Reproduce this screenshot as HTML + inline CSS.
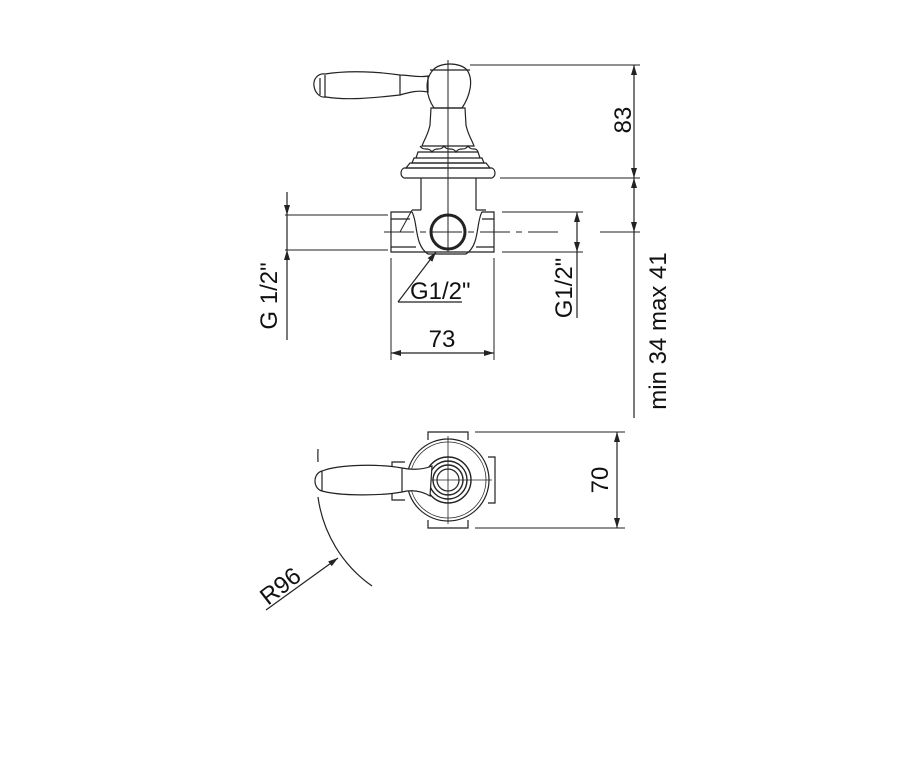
<!DOCTYPE html>
<html><head><style>html,body{margin:0;padding:0;background:#fff}svg{display:block}</style></head>
<body>
<svg width="900" height="762" viewBox="0 0 900 762" xmlns="http://www.w3.org/2000/svg" font-family="Liberation Sans, sans-serif" fill="none" stroke="#222" stroke-width="1.2">
<defs>
<marker id="a" markerWidth="10" markerHeight="8" refX="10" refY="4" orient="auto-start-reverse" markerUnits="userSpaceOnUse"><path d="M0,1 L10,4 L0,7 Z" fill="#222" stroke="none"/></marker>
</defs>
<!-- lever -->
<path d="M325,74 C318,73 313,79 314,86 C315,93 320,98 326,97 C350,101 380,97 400,95 C410,92 418,90 428,92 L428,76 C418,78 410,75 400,75 C380,72 350,70 325,74 Z"/>
<path d="M325,75 L325,97 M400,75 L400,95 M320,78 L320,95"/>
<!-- knob -->
<path d="M433,70 C440,62 460,62 467,70 C474,80 470,96 462,108 L434,108 C426,96 424,80 433,70 Z"/>
<path d="M430,70 L470,70"/>
<!-- stem -->
<path d="M431,108 L465,108 L466,125 C468,135 472,140 474,146 L422,146 C424,140 428,135 430,125 Z"/>
<path d="M420,146 C424,152 428,146 432,152 C436,146 440,152 444,146 C448,152 452,146 456,152 C460,146 464,152 468,146 C472,152 476,146 478,152"/>
<path d="M418,152 L478,152 L480,158 L416,158 Z M414,158 L482,158 L484,163 L412,163 Z"/>
<path d="M410,163 L486,163 L490,168 L406,168 Z"/>
<path d="M404,168 L492,168 C496,170 496,176 492,178 L404,178 C400,176 400,170 404,168 Z"/>
<path d="M421,178 L421,210 M476,178 L476,210"/>
<path d="M412,210 L421,210 M476,210 L486,210"/>
<path d="M391,212 L412,212 C418,222 414,245 428,254 L466,254 C480,245 476,222 482,212 L494,212 L494,252 L391,252 Z"/>
<path d="M391,219 L410,219 M391,247 L416,247 M482,219 L494,219 M476,247 L494,247"/>
<path d="M412,210 L400,232" stroke-width="1"/>
<circle cx="448" cy="232" r="17" stroke-width="3"/>
<line x1="448" y1="60" x2="448" y2="252" stroke-width="1"/>
<path d="M384,232 L560,232 M600,232 L640,232" stroke-width="1" stroke-dasharray="30,6,6,6"/>
<path d="M285,215 L388,215 M285,250 L388,250 M502,212 L583,212 M502,252 L583,252" stroke-width="1"/>
<line x1="287" y1="192" x2="287" y2="215" marker-end="url(#a)"/>
<line x1="287" y1="215" x2="287" y2="250"/>
<line x1="287" y1="340" x2="287" y2="250" marker-end="url(#a)"/>
<line x1="577" y1="232" x2="577" y2="212" marker-end="url(#a)"/>
<line x1="577" y1="232" x2="577" y2="252" marker-end="url(#a)"/>
<line x1="577" y1="252" x2="577" y2="318"/>
<line x1="398" y1="302" x2="436" y2="252" marker-end="url(#a)"/>
<line x1="398" y1="302" x2="462" y2="302"/>
<path d="M391,258 L391,360 M494,258 L494,360" stroke-width="1"/>
<line x1="442" y1="353" x2="391" y2="353" marker-end="url(#a)"/>
<line x1="442" y1="353" x2="494" y2="353" marker-end="url(#a)"/>
<path d="M470,65 L640,65 M500,178 L640,178 M600,232 L640,232" stroke-width="1"/>
<line x1="634" y1="120" x2="634" y2="65" marker-end="url(#a)"/>
<line x1="634" y1="120" x2="634" y2="178" marker-end="url(#a)"/>
<line x1="634" y1="195" x2="634" y2="178" marker-end="url(#a)"/>
<line x1="634" y1="195" x2="634" y2="232" marker-end="url(#a)"/>
<line x1="634" y1="232" x2="634" y2="418"/>
<g fill="#111" stroke="none" font-size="24">
<text x="410" y="299">G1/2"</text>
<text x="442" y="347" text-anchor="middle">73</text>
<text transform="translate(277,296) rotate(-90)" text-anchor="middle">G 1/2"</text>
<text transform="translate(572,288) rotate(-90)" text-anchor="middle">G1/2"</text>
<text transform="translate(631,120) rotate(-90)" text-anchor="middle">83</text>
<text transform="translate(666,331) rotate(-90)" text-anchor="middle">min 34 max 41</text>
<text transform="translate(608,480) rotate(-90)" text-anchor="middle">70</text>
<text transform="translate(268,606) rotate(-38)">R96</text>
</g>
<!-- BOTTOM VIEW -->
<path d="M428,440 L428,432 L468,432 L468,440 M428,520 L428,528 L468,528 L468,520"/>
<path d="M488,457 L495,457 L495,503 L488,503"/>
<path d="M405,462 L392,462 L392,500 L405,500"/>
<circle cx="448" cy="480" r="41"/>
<circle cx="448" cy="480" r="38" stroke-width="0.8"/>
<circle cx="448" cy="480" r="23" stroke-width="1.4"/>
<circle cx="448" cy="480" r="19" stroke-width="1.4"/>
<circle cx="448" cy="480" r="15" stroke-width="1.4"/>
<circle cx="448" cy="480" r="11"/>
<path d="M448,436 L448,524 M404,480 L492,480" stroke-width="0.8"/>
<path d="M322,471 C318,472 315,476 315,481 C315,486 318,490 322,491 C340,496 380,496 402,492 C410,490 420,490 430,496 L432,466 C422,470 412,470 402,468 C380,464 340,464 322,471 Z" fill="#fff"/>
<path d="M322,471 L322,491 M402,468 L402,492"/>
<path d="M475,432 L625,432 M475,528 L625,528" stroke-width="1"/>
<line x1="617" y1="480" x2="617" y2="432" marker-end="url(#a)"/>
<line x1="617" y1="480" x2="617" y2="528" marker-end="url(#a)"/>
<path d="M318,449 A130 130 0 0 0 318,462"/>
<path d="M318,497 A130 130 0 0 0 372,586"/>
<line x1="266" y1="610" x2="338" y2="558" marker-end="url(#a)"/>
</svg>
</body></html>
